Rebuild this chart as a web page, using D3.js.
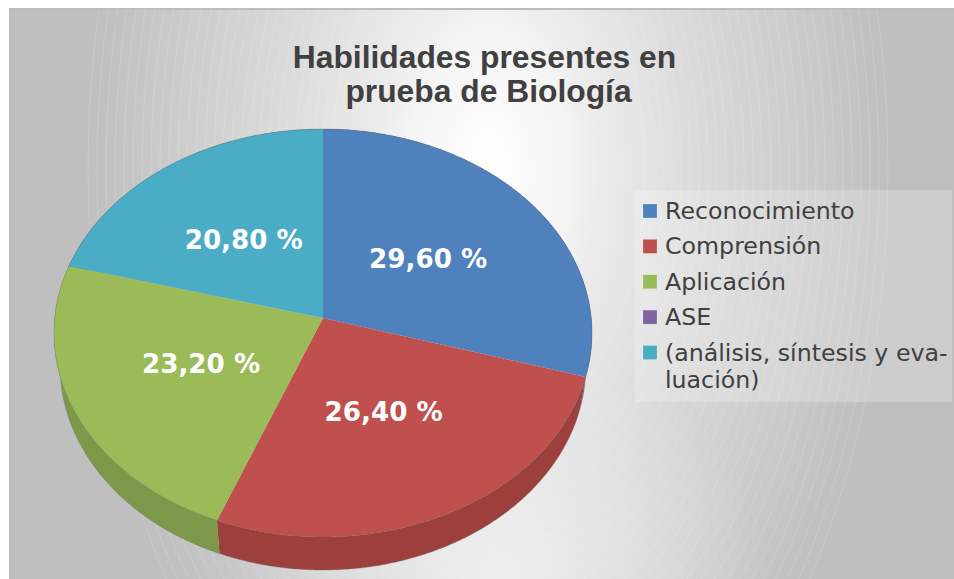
<!DOCTYPE html>
<html><head><meta charset="utf-8">
<script src="https://cdn.jsdelivr.net/npm/d3@7"></script>
<style>html,body{margin:0;padding:0;background:#fff;overflow:hidden}svg{display:block}</style>
</head><body><div id="chart"></div>
<script>
const titleLines = ["Habilidades presentes en", "prueba de Biología"];
const categories = ["Reconocimiento", "Comprensión", "Aplicación", "ASE", "(análisis, síntesis y evaluación)"];
const legendLines = [["Reconocimiento"], ["Comprensión"], ["Aplicación"], ["ASE"], ["(análisis, síntesis y eva-", "luación)"]];
const values = [29.6, 26.4, 23.2, 0, 20.8];
const valueLabels = ["29,60 %", "26,40 %", "23,20 %", "", "20,80 %"];
const colors = ["#4f81bd", "#c0504d", "#9bbb59", "#8064a2", "#4bacc6"];
const wallColors = ["#3f6796", "#9c3f3d", "#7d9848", "#665082", "#3c8a9e"];

const W = 954, H = 579;
const svg = d3.select("#chart").append("svg").attr("width", W).attr("height", H);
const defs = svg.append("defs");

// background radial gradient
const bgCx = 488, bgCy = 170, bgRx = 400, bgRy = 689;
const grad = defs.append("radialGradient").attr("id", "bg")
  .attr("gradientUnits", "userSpaceOnUse").attr("cx", 0).attr("cy", 0).attr("r", 1)
  .attr("gradientTransform", `translate(${bgCx},${bgCy}) scale(${bgRx},${bgRy})`);
[[0, "#ffffff"], [0.2, "#f4f4f4"], [0.28, "#ececec"], [0.53, "#dadada"], [0.78, "#cccccc"], [1, "#bfbfbf"]]
  .forEach(s => grad.append("stop").attr("offset", s[0]).attr("stop-color", s[1]));
svg.append("rect").attr("x", 9).attr("y", 9).attr("width", W - 9).attr("height", H - 9).attr("fill", "url(#bg)");

// lighter glow along the bottom of the gradient
const glow = defs.append("radialGradient").attr("id", "glow")
  .attr("gradientUnits", "userSpaceOnUse").attr("cx", 0).attr("cy", 0).attr("r", 1)
  .attr("gradientTransform", "translate(500,579) scale(270,230)");
glow.append("stop").attr("offset", 0).attr("stop-color", "#fff").attr("stop-opacity", 0.6);
glow.append("stop").attr("offset", 1).attr("stop-color", "#fff").attr("stop-opacity", 0);
svg.append("rect").attr("x", 230).attr("y", 349).attr("width", 540).attr("height", 230).attr("fill", "url(#glow)");

svg.append("rect").attr("x", 9).attr("y", 8).attr("width", W - 9).attr("height", 2).attr("fill", "#bdbdbd");
// faint gradient banding rings
const clip = defs.append("clipPath").attr("id", "plate");
clip.append("rect").attr("x", 9).attr("y", 10).attr("width", W - 9).attr("height", H - 10);
svg.append("g").attr("clip-path", "url(#plate)").selectAll("ellipse")
  .data(d3.range(bgRx, 150, -9)).join("ellipse")
  .attr("cx", bgCx).attr("cy", bgCy)
  .attr("rx", d => d).attr("ry", d => d * bgRy / bgRx)
  .attr("fill", "none").attr("stroke", "#fff").attr("stroke-width", 0.6).attr("stroke-opacity", 0.25);

// perspective projection of the pie disc
const cx = 323, cy = 318, A = 268.3, B = 202.9, c = -0.0735;
function project(u, v) { const d = 1 + c * v; return [cx + A * u / d, cy + B * v / d]; }
const onDisc = (a, f = 1) => project(f * Math.sin(a), -f * Math.cos(a));
const rimScale = 0.977, depth = 33;
const onRim = a => { const p = onDisc(a); return [cx + (p[0] - cx) * rimScale, p[1] + depth]; };
const sample = (a0, a1) => { const n = Math.max(2, Math.ceil((a1 - a0) / 0.01)); return d3.range(n + 1).map(i => a0 + (a1 - a0) * i / n); };
const line = d3.line();

const arcs = d3.pie().sort(null).value(d => d)(values);

// walls
svg.append("g").selectAll("path").data(arcs).join("path")
  .attr("d", d => { const s = sample(d.startAngle, d.endAngle);
    return line(s.map(a => onDisc(a)).concat(s.slice().reverse().map(onRim))) + "Z"; })
  .attr("fill", (d, i) => wallColors[i]);
// thin shadow edge on lower rim
svg.append("g").selectAll("path").data(arcs).join("path")
  .attr("d", d => line(sample(d.startAngle, d.endAngle).map(onRim)))
  .attr("fill", "none").attr("stroke", "#6b6b6b").attr("stroke-opacity", 0.5).attr("stroke-width", 0.8);

// top faces
svg.append("g").selectAll("path").data(arcs).join("path")
  .attr("d", d => line([[cx, cy]].concat(sample(d.startAngle, d.endAngle).map(a => onDisc(a)))) + "Z")
  .attr("fill", (d, i) => colors[i]);
svg.append("g").selectAll("path").data(arcs).join("path")
  .attr("d", d => line(sample(d.startAngle, d.endAngle).map(a => onDisc(a))))
  .attr("fill", "none").attr("stroke", "#5f5f5f").attr("stroke-opacity", 0.45).attr("stroke-width", 0.7);

// value labels
svg.append("g").selectAll("text").data(arcs.filter(d => d.value > 0)).join("text")
  .attr("x", d => onDisc((d.startAngle + d.endAngle) / 2, 0.5)[0])
  .attr("y", d => onDisc((d.startAngle + d.endAngle) / 2, 0.5)[1] + 9)
  .attr("text-anchor", "middle")
  .attr("font-family", "'DejaVu Sans'").attr("font-weight", "bold").attr("font-size", 26.2)
  .attr("fill", "#fff").text(d => valueLabels[d.index]);

// title
svg.append("g").selectAll("text").data(titleLines).join("text")
  .attr("x", (d, i) => 484.5 + i * 4).attr("y", (d, i) => 68 + i * 34)
  .attr("text-anchor", "middle")
  .attr("font-family", "'Liberation Sans'").attr("font-weight", "bold").attr("font-size", 31.8)
  .attr("fill", "#404040").text(d => d);

// legend
svg.append("rect").attr("x", 635).attr("y", 190).attr("width", 317).attr("height", 212)
  .attr("fill", "#fff").attr("fill-opacity", 0.22);
const rowY = d3.scalePoint().domain(categories).range([211, 352.5]);
const leg = svg.append("g").selectAll("g").data(categories).join("g")
  .attr("transform", d => `translate(643,${rowY(d)})`);
leg.append("rect").attr("x", 0).attr("y", -7).attr("width", 14).attr("height", 14)
  .attr("fill", (d, i) => colors[i]).attr("stroke", "#fff").attr("stroke-opacity", 0.35).attr("stroke-width", 0.5);
leg.append("text").attr("font-family", "'DejaVu Sans'").attr("font-size", 23.7).attr("fill", "#404040")
  .selectAll("tspan").data((d, i) => legendLines[i]).join("tspan")
  .attr("x", 22).attr("y", (d, i) => 8 + i * 27.5).text(d => d);
</script></body></html>
